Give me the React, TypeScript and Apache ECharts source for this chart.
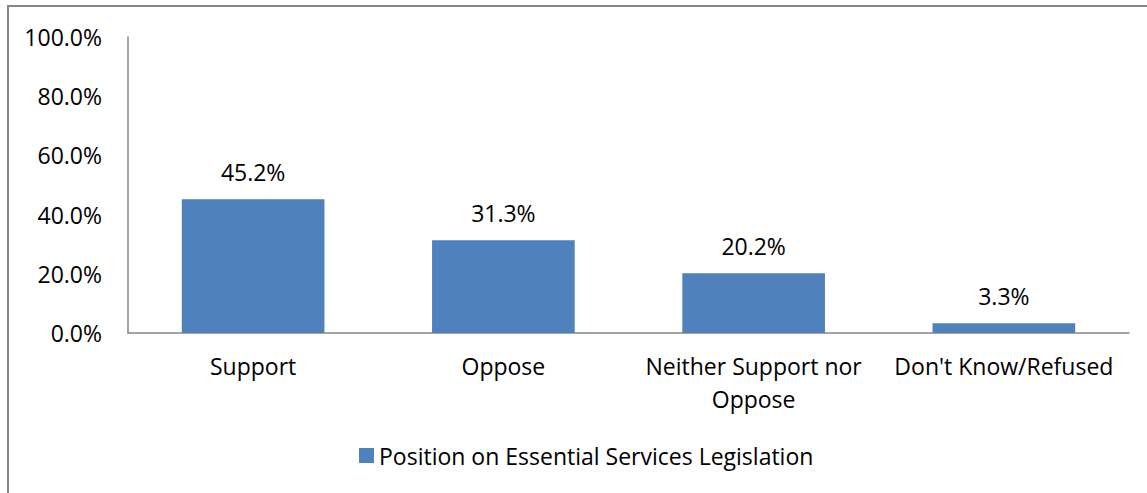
import React, { useEffect, useRef } from "react";
import * as echarts from "echarts";

const categories = ["Support", "Oppose", "Neither Support nor\nOppose", "Don't Know/Refused"];
const values = [45.2, 31.3, 20.2, 3.3];
const seriesName = "Position on Essential Services Legislation";
const yTicks = [0, 20, 40, 60, 80, 100];

const FONT = "'Open Sans', 'Noto Sans', sans-serif";
const FS = 23;

export default function App() {
  const ref = useRef<HTMLDivElement>(null);
  useEffect(() => {
    if (!ref.current) return;
    const chart = echarts.init(ref.current, undefined, { renderer: "svg" });
    chart.setOption({
      animation: false,
      textStyle: { fontFamily: FONT },
      graphic: [
        {
          type: "rect",
          shape: { x: 8, y: 6, width: 1200, height: 600 },
          style: { fill: "none", stroke: "#868686", lineWidth: 2 },
          silent: true,
        },
      ],
      legend: {
        data: [seriesName],
        left: 354,
        top: 439,
        icon: "rect",
        itemWidth: 15,
        itemHeight: 15,
        itemGap: 8,
        textStyle: { fontFamily: FONT, fontSize: FS, color: "#000" },
      },
      grid: { left: 128, right: 18, top: 37, bottom: 160, containLabel: false },
      xAxis: {
        type: "category",
        data: categories,
        axisLine: { lineStyle: { color: "#868686", width: 1.5 } },
        axisTick: { show: false },
        axisLabel: {
          fontFamily: FONT,
          fontSize: FS,
          color: "#000",
          margin: 16,
          lineHeight: 33,
          interval: 0,
        },
      },
      yAxis: {
        type: "value",
        min: 0,
        max: 100,
        interval: 20,
        axisLine: { show: true, lineStyle: { color: "#868686", width: 1.5 } },
        axisTick: { show: false },
        splitLine: { show: false },
        axisLabel: {
          fontFamily: FONT,
          fontSize: FS,
          color: "#000",
          margin: 26,
          formatter: (v: number) => (yTicks.includes(v) ? v.toFixed(1) + "%" : ""),
        },
      },
      series: [
        {
          name: seriesName,
          type: "bar",
          data: values,
          barWidth: "57%",
          itemStyle: { color: "#4F81BD" },
          label: {
            show: true,
            position: "top",
            distance: 16,
            fontFamily: FONT,
            fontSize: FS,
            color: "#000",
            formatter: (p: any) => p.value.toFixed(1) + "%",
          },
        },
      ],
    });
    return () => chart.dispose();
  }, []);
  return (
    <div
      ref={ref}
      style={{ position: "absolute", left: 0, top: 0, width: 1147, height: 493, background: "#fff" }}
    />
  );
}
